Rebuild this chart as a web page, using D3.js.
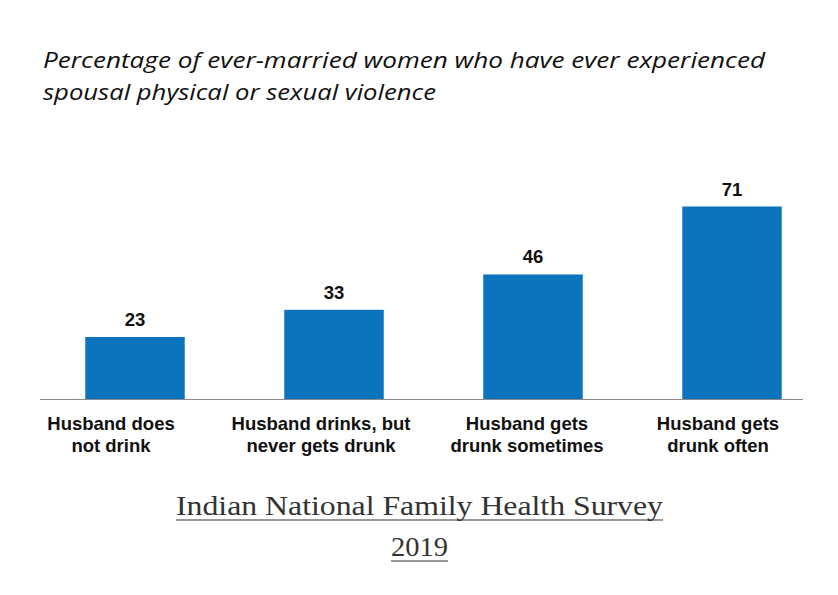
<!DOCTYPE html>
<html><head><meta charset="utf-8">
<script src="https://cdn.jsdelivr.net/npm/d3@7"></script>
<style>body{margin:0;background:#fff}</style>
</head><body>
<script>
const categories = [["Husband does","not drink"],["Husband drinks, but","never gets drunk"],["Husband gets","drunk sometimes"],["Husband gets","drunk often"]];
const values = [23, 33, 46, 71];
const titleLines = ["Percentage of ever-married women who have ever experienced","spousal physical or sexual violence"];
const footerLines = ["Indian National Family Health Survey","2019"];

// layout: horizontal nudges of category labels relative to bar centres (as in the source image)
const LABEL_NUDGE = [-24, -13, -6, -14];

const W = 838, H = 595;
const svg = d3.select("body").append("svg").attr("width", W).attr("height", H);

const x = d3.scaleBand().domain(d3.range(categories.length)).range([35.5, 831.5]).paddingInner(0.5).paddingOuter(0.25);
const y = d3.scaleLinear().domain([0, 71]).range([399.5, 206.5]);

// title
const titleW = [722, 393];
titleLines.forEach((t, i) => {
  svg.append("text").attr("x", 43).attr("y", 68 + i * 32)
    .attr("font-family", "'Open Sans', sans-serif").attr("font-style", "italic")
    .attr("font-size", 22).attr("fill", "#111")
    .attr("textLength", titleW[i]).attr("lengthAdjust", "spacingAndGlyphs").text(t);
});

// bars
svg.selectAll("rect.bar").data(values).enter().append("rect")
  .attr("x", (d, i) => x(i)).attr("width", x.bandwidth())
  .attr("y", d => y(d)).attr("height", d => y(0) - y(d))
  .attr("fill", "#0b74bd");

// axis line
svg.append("line").attr("x1", 40).attr("x2", 803).attr("y1", y(0)).attr("y2", y(0))
  .attr("stroke", "#8a8a8a").attr("stroke-width", 1.2);

// value labels
svg.selectAll("text.val").data(values).enter().append("text")
  .attr("x", (d, i) => x(i) + x.bandwidth() / 2).attr("y", d => y(d) - 11)
  .attr("text-anchor", "middle").attr("font-family", "'Liberation Sans', Arial, sans-serif")
  .attr("font-weight", "bold").attr("font-size", 18.5).attr("fill", "#111").text(d => d);

// category labels
categories.forEach((lines, i) => {
  lines.forEach((l, j) => {
    svg.append("text").attr("x", x(i) + x.bandwidth() / 2 + LABEL_NUDGE[i]).attr("y", 430 + j * 22)
      .attr("text-anchor", "middle").attr("font-family", "'Liberation Sans', Arial, sans-serif")
      .attr("font-weight", "bold").attr("font-size", 18.5).attr("fill", "#111").text(l);
  });
});

// footer
const fy = [515, 556];
const fw = [487, 57];
footerLines.forEach((t, i) => {
  svg.append("text").attr("x", 419.5).attr("y", fy[i]).attr("text-anchor", "middle")
    .attr("font-family", "'Liberation Serif', 'DejaVu Serif', serif").attr("font-size", 27)
    .attr("fill", "#333").attr("textLength", fw[i]).attr("lengthAdjust", "spacingAndGlyphs").text(t);
  svg.append("line").attr("x1", 419.5 - fw[i] / 2).attr("x2", 419.5 + fw[i] / 2)
    .attr("y1", fy[i] + 5).attr("y2", fy[i] + 5).attr("stroke", "#333").attr("stroke-width", 1.2);
});
</script>
</body></html>
